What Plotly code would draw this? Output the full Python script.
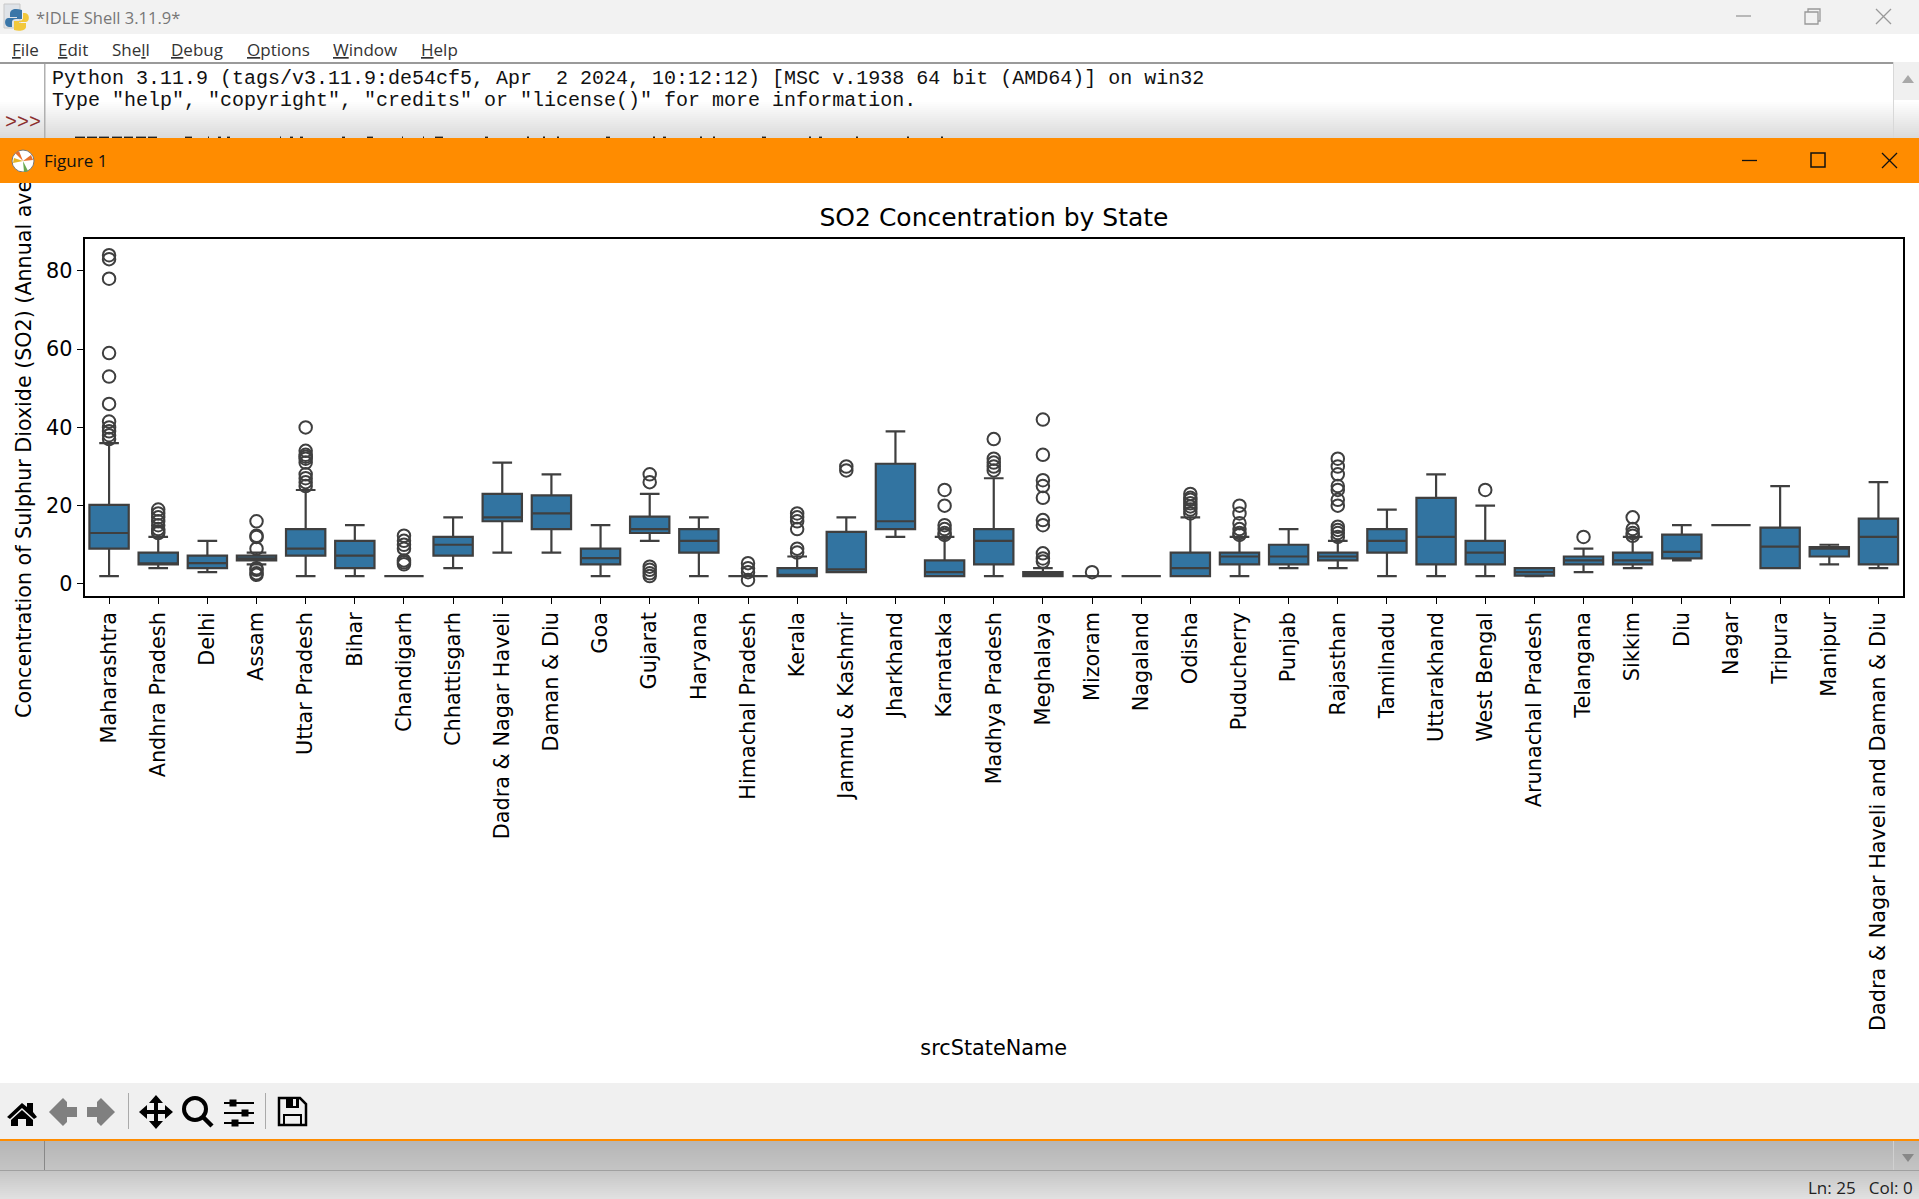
import re
import plotly.graph_objects as go

W, H = 1919, 1199

states = ["Maharashtra", "Andhra Pradesh", "Delhi", "Assam", "Uttar Pradesh", "Bihar", "Chandigarh",
          "Chhattisgarh", "Dadra & Nagar Haveli", "Daman & Diu", "Goa", "Gujarat", "Haryana",
          "Himachal Pradesh", "Kerala", "Jammu & Kashmir", "Jharkhand", "Karnataka", "Madhya Pradesh",
          "Meghalaya", "Mizoram", "Nagaland", "Odisha", "Puducherry", "Punjab", "Rajasthan", "Tamilnadu",
          "Uttarakhand", "West Bengal", "Arunachal Pradesh", "Telangana", "Sikkim", "Diu", "Nagar",
          "Tripura", "Manipur", "Dadra & Nagar Haveli and Daman & Diu"]
q1 = [9, 5, 4, 6, 7.2, 4, 2, 7.2, 16, 14, 5, 13, 8, 2, 2, 3, 14, 2, 5, 2, 2, 2, 2, 5, 5, 6, 8, 5, 5, 2.1, 5, 5,
      6.5, 15, 4, 7, 5]
medians = [13, 5.2, 5.3, 6.5, 9, 7.2, 2, 10, 17, 18, 6.6, 14, 11, 2, 2.3, 3.7, 16, 3, 11, 2.5, 2, 2, 4, 7, 7, 7,
           11, 12, 8, 3, 6, 6, 8.2, 15, 9.5, 9, 12]
q3 = [20.2, 8, 7.2, 7.2, 14, 11, 2, 12, 23, 22.6, 9, 17.2, 14, 2, 4, 13.3, 30.7, 6, 14, 3, 2, 2, 8, 8, 10, 8,
      14, 22, 11, 4, 7, 8, 12.6, 15, 14.4, 9.4, 16.7]
whisker_low = [2, 4, 3, 5, 2, 2, 2, 4, 8, 8, 2, 11, 2, 2, 2, 3, 12, 2, 2, 2, 2, 2, 2, 2, 4, 4, 2, 2, 2, 2, 3, 4,
               6, 15, 4, 5, 4]
whisker_high = [36, 12, 11, 8, 24, 15, 2, 17, 31, 28, 15, 23, 17, 2, 7, 17, 39, 12, 27, 4, 2, 2, 17, 12, 14, 11,
                19, 28, 20, 4, 9, 12, 15, 15, 25, 10, 26]
outliers = [
    [37, 38, 39, 40, 41.5, 46, 53, 59, 78, 83, 84],
    [13, 13.4, 14, 15, 16, 17, 18, 19],
    [],
    [2.3, 2.7, 3.6, 4, 9, 12, 12.3, 16],
    [25, 26, 27, 28, 31, 32, 32.5, 33, 34, 40],
    [],
    [5, 5.5, 6, 9, 10, 11, 12.3],
    [], [], [], [],
    [2, 2.7, 3.6, 4.4, 26, 28],
    [],
    [1, 3, 4, 5.3],
    [8, 9, 14, 16, 17, 18],
    [29, 30],
    [],
    [12.5, 13, 14, 15, 20, 24],
    [29, 30, 31, 32, 37],
    [5.7, 6.5, 7.8, 15, 16.3, 22, 25, 26.5, 33, 42],
    [3],
    [],
    [18, 19, 19.8, 20.6, 21.5, 22, 23],
    [12.5, 13, 14, 15.5, 18, 20],
    [],
    [12, 13, 13.8, 14.6, 20, 21.5, 24, 25, 28, 30, 32],
    [], [],
    [24],
    [],
    [12],
    [12.3, 13, 14, 17],
    [], [], [], [], [],
]
y_ticks = [0, 20, 40, 60, 80]
chart_title = "SO2 Concentration by State"
x_label = "srcStateName"
y_label_visible = "Concentration of Sulphur Dioxide (SO2) (Annual ave"

FILL, EDGE, ORANGE = "#3274a1", "#3f3f3f", "#ff8c00"
FONT = "DejaVu Sans"
UI = "Open Sans"
MONO = "Liberation Mono"
LABEL_SIZE = 20.8
TITLE_SIZE = 25


def px(x):
    return x / W


def py(y):
    return 1 - y / H


shapes, notes = [], []


def rect(x0, y0, x1, y1, fill, line=None, lw=0):
    shapes.append(dict(type="rect", xref="paper", yref="paper", x0=px(x0), x1=px(x1), y0=py(y0), y1=py(y1),
                       fillcolor=fill, line=dict(color=line or fill, width=lw), layer="below"))


def path(d, fill="rgba(0,0,0,0)", line="rgba(0,0,0,0)", lw=0):
    def conv(m):
        return f"{px(float(m.group(1))):.5f},{py(float(m.group(2))):.5f}"
    shapes.append(dict(type="path", xref="paper", yref="paper", layer="below",
                       path=re.sub(r"(-?[\d.]+)[ ,](-?[\d.]+)", conv, d), fillcolor=fill,
                       line=dict(color=line, width=lw)))


def circle(cx, cy, r, fill="rgba(0,0,0,0)", line="rgba(0,0,0,0)", lw=0):
    shapes.append(dict(type="circle", xref="paper", yref="paper", layer="below",
                       x0=px(cx - r), x1=px(cx + r), y0=py(cy + r), y1=py(cy - r), fillcolor=fill,
                       line=dict(color=line, width=lw)))


def text(x, y, s, size, color="#000", font=UI, anchor="left", **kw):
    notes.append(dict(xref="paper", yref="paper", x=px(x), y=py(y), text=s, showarrow=False, xanchor=anchor,
                      yanchor=kw.pop("yanchor", "middle"), font=dict(family=font, size=size, color=color),
                      borderpad=0, **kw))


def cover(x0, y0, x1, y1):
    notes.append(dict(xref="paper", yref="paper", x=px(x0), y=py(y0), xanchor="left", yanchor="top", text=" ",
                      showarrow=False, width=x1 - x0, height=y1 - y0, bgcolor=ORANGE, borderpad=0, borderwidth=0,
                      font=dict(size=1)))


def gray(v):
    return f"rgb({v},{v},{v})"


# IDLE shell window behind the figure
rect(0, 0, W, 34, "#f2f2f2")
rect(0, 34, W, 62, "#ffffff")
rect(0, 62, W, 138, "#ffffff")
for i in range(19):
    v = 255 - i * 2
    rect(0, 100 + i * 2, W, 102 + i * 2, gray(v))
rect(0, 62, 1919, 64, "#9a9a9a")
rect(44, 64, 45.5, 138, "#b0b0b0")
rect(1893, 62, 1919, 100, "#f0f0f0")
rect(1893, 100, 1894, 138, "#d8d8d8")
rect(1893, 62, 1894, 100, "#d8d8d8")
path("M1902 83 L1908 75 L1914 83 Z", fill="#a8a8a8")
path("M1736 16 L1751 16", line="#999", lw=1.3)
path("M1805 12 L1818 12 L1818 24 L1805 24 Z", line="#999", lw=1.3)
path("M1808 12 L1808 9 L1820 9 L1820 21 L1818 21", line="#999", lw=1.3)
path("M1876 9 L1891 24 M1891 9 L1876 24", line="#999", lw=1.3)
rect(4, 4, 20, 28, "#dfe3e8", "#c8c8c8", 1)
path("M22 10 C15 8 10 9 10 14 L10 17 L17 17 L17 18 L8 18 C4 18 4 27 9 27 L12 27 L12 22 C12 20 14 19 16 19 L22 19 Z", fill="#3a76a8")
path("M14 30 C20 32 26 30 26 27 L26 23 L19 23 L19 22 L26 22 C30 22 30 13 25 13 L23 13 L23 18 C23 20 21 21 19 21 L14 21 Z", fill="#f2c83c")
text(35, 17, "*IDLE Shell 3.11.9*", 16.5, "#777777")
for mx, label in [(11, "<u>F</u>ile"), (57, "<u>E</u>dit"), (111, "She<u>l</u>l"), (170, "<u>D</u>ebug"),
                  (246, "<u>O</u>ptions"), (332, "<u>W</u>indow"), (420, "<u>H</u>elp")]:
    text(mx, 50, label, 17, "#333333")
text(51, 78, "Python 3.11.9 (tags/v3.11.9:de54cf5, Apr\u00a0\u00a02 2024, 10:12:12) [MSC v.1938 64 bit (AMD64)] on win32",
     20, "#111111", MONO)
text(51, 100, 'Type "help", "copyright", "credits" or "license()" for more information.', 20, "#111111", MONO)
text(4, 122, "&gt;&gt;&gt;", 20, "#8b2e2e", MONO)
# the sliver of the shell's next line that shows above the orange bar (only the glyph tops are visible)
sliver = [(75, 85), (87, 97), (99, 109), (112, 122), (124, 133), (136, 146), (148, 157), (185, 192), (208, 209),
          (218, 221), (227, 230), (280, 281), (290, 293), (300, 303), (342, 345), (367, 373), (402, 403),
          (423, 424), (435, 443), (485, 488), (527, 529), (543, 545), (557, 559), (606, 610), (653, 655),
          (663, 666), (700, 702), (713, 715), (762, 766), (809, 811), (819, 822), (856, 858), (907, 909),
          (941, 943)]
for a, b in sliver:
    rect(a, 136.6, b, 138, "#222222")

# figure window chrome
rect(0, 138, W, 183, ORANGE)
rect(0, 183, W, 1083, "#ffffff")
rect(0, 1083, W, 1139, "#f0f0f0")
rect(0, 1139, W, 1141, ORANGE)
for i in range(15):
    rect(0, 1141 + i * 2, W, 1143 + i * 2, gray(182 + i))
rect(0, 1170, W, 1171.5, "#a0a0a0")
for i in range(14):
    rect(0, 1171 + i * 2, W, 1173 + i * 2, gray(198 + i * 2))
rect(44, 1141, 45, 1170, "#888888")
rect(1893, 1141, 1894, 1170, "#d0d0d0")
path("M1902 1154 L1914 1154 L1908 1162 Z", fill="#888888")
text(1914, 1187, "Ln: 25\u00a0\u00a0\u00a0Col: 0", 17, "#222222", UI, "right")
circle(23, 161, 11, fill="#ffffff", line="#777", lw=1)
path("M23 161 L15 153 L19 151 Z", fill="#e8702a")
path("M23 161 L31 155 L33 160 Z", fill="#e8702a")
path("M23 161 L28 171 L24 172 Z", fill="#6aa84f")
path("M23 161 L13 163 L14 158 Z", fill="#e6b422")
path("M1742 160.5 L1757 160.5", line="#111", lw=1.3)
path("M1811 153 L1825 153 L1825 167 L1811 167 Z", line="#111", lw=1.5)
path("M1882 153 L1897 168 M1897 153 L1882 168", line="#111", lw=1.3)

# toolbar icons
path("M7 1117 L22 1103 L27 1107 L27 1103 L33 1103 L33 1112 L37 1117 L34 1119 L22 1108 L10 1119 Z", fill="#000")
path("M11 1120 L22 1110 L33 1120 L33 1126 L26 1126 L26 1119 L18 1119 L18 1126 L11 1126 Z", fill="#000")
path("M49 1112 L63 1098 L67 1102 L67 1107 L77 1107 L77 1117 L67 1117 L67 1122 L63 1126 Z", fill="#808080")
path("M115 1112 L101 1098 L97 1102 L97 1107 L87 1107 L87 1117 L97 1117 L97 1122 L101 1126 Z", fill="#808080")
rect(128, 1093, 129, 1129, "#aaaaaa")
path("M156 1095 L163 1103 L158 1103 L158 1110 L165 1110 L165 1105 L173 1112 L165 1119 L165 1114 L158 1114 "
     "L158 1121 L163 1121 L156 1129 L149 1121 L154 1121 L154 1114 L147 1114 L147 1119 L139 1112 L147 1105 "
     "L147 1110 L154 1110 L154 1103 L149 1103 Z", fill="#000")
circle(195, 1109, 11, line="#000", lw=4)
path("M203 1117 L212 1126", line="#000", lw=4.5)
for ly, kx in [(1103, 233), (1113, 245), (1123, 235)]:
    path(f"M224 {ly} L254 {ly}", line="#000", lw=2)
    rect(kx - 3.5, ly - 3.5, kx + 3.5, ly + 3.5, "#000")
rect(265, 1093, 266, 1129, "#aaaaaa")
path("M279 1098 L300 1098 L306 1104 L306 1125 L279 1125 Z", line="#000", lw=2.5)
rect(286, 1098, 299, 1108, "#000")
rect(293, 1099, 296, 1106, "#f0f0f0")
path("M284 1125 L284 1115 L301 1115 L301 1125", line="#000", lw=2)

# y axis label, read bottom to top; its clipped end runs under the orange bar in the reference
text(24, 719, y_label_visible, 20.65, "#000", FONT, "center", textangle=-90, yanchor="bottom")
# orange bar repeated where the window clips the label
cover(5, 172, 45, 183)
text(43, 161, "Figure 1", 17, "#111111")

out_x, out_y = [], []
for s, vals in zip(states, outliers):
    for v in vals:
        out_x.append(s)
        out_y.append(v)

fig = go.Figure()
fig.add_trace(go.Box(x=states, q1=q1, median=medians, q3=q3, lowerfence=whisker_low, upperfence=whisker_high,
                     width=0.8, whiskerwidth=0.5, fillcolor=FILL, boxpoints=False,
                     line=dict(color=EDGE, width=2.2), showlegend=False))
fig.add_trace(go.Scatter(x=out_x, y=out_y, mode="markers", showlegend=False,
                         marker=dict(symbol="circle-open", size=12.5, color=EDGE, line=dict(width=2, color=EDGE))))
axis_common = dict(showline=True, mirror=True, linecolor="#000", linewidth=1.6, ticks="outside", ticklen=6,
                   tickwidth=1.4, tickcolor="#000", showgrid=False, zeroline=False,
                   tickfont=dict(family=FONT, size=LABEL_SIZE, color="#000"))
fig.update_layout(
    width=W, height=H, autosize=False, margin=dict(l=0, r=0, t=0, b=0),
    paper_bgcolor="#ffffff", plot_bgcolor="#ffffff", showlegend=False,
    title=dict(text=chart_title, x=px(994), xanchor="center", xref="paper", y=py(217), yanchor="middle",
               yref="container", font=dict(family=FONT, size=TITLE_SIZE, color="#000")),
    xaxis=dict(domain=[px(84.5), px(1903)], type="category", categoryorder="array", categoryarray=states,
               range=[-0.5, 36.5], tickangle=-90, tickmode="array", tickvals=states, ticktext=states,
               title=dict(text=x_label, standoff=10, font=dict(family=FONT, size=LABEL_SIZE, color="#000")),
               **axis_common),
    yaxis=dict(domain=[py(596), py(239)], range=[-3.1, 88.15], tickmode="array", tickvals=y_ticks, **axis_common),
    shapes=shapes, annotations=notes,
)
fig.write_html("out.html", config=dict(displayModeBar=False),
               post_script="document.body.style.margin='0';document.body.style.overflow='hidden';")
